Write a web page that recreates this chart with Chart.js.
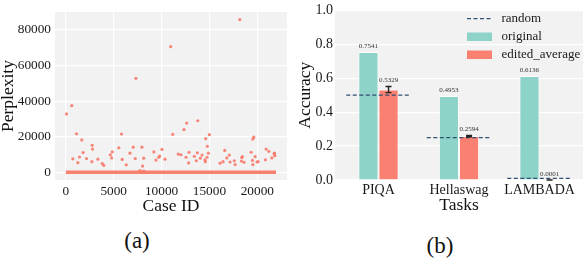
<!DOCTYPE html>
<html>
<head>
<meta charset="utf-8">
<script src="https://cdn.jsdelivr.net/npm/chart.js@4.4.1/dist/chart.umd.min.js"></script>
<style>
  html, body { margin: 0; padding: 0; background: #fff; }
  body { width: 584px; height: 258px; position: relative; overflow: hidden; font-family: "Liberation Serif", serif; }
  .box { position: absolute; top: 0; height: 220px; }
  #boxA { left: 0; width: 292px; }
  #boxB { left: 290px; width: 294px; }
  .cap { position: absolute; font-size: 23px; line-height: 1; color: #111; transform: translate(-50%, -50%); }
</style>
</head>
<body>
<div class="box" id="boxA"><canvas id="chartA"></canvas></div>
<div class="box" id="boxB"><canvas id="chartB"></canvas></div>
<div class="cap" style="left:137px; top:240px">(a)</div>
<div class="cap" style="left:440px; top:245px">(b)</div>
<script>
// (a) cases with a high perplexity (case id / perplexity)
var caseIds = [70, 628, 1120, 1670, 732, 1255, 1430, 1810, 2160, 2750, 2790, 2720, 3350, 3800, 3970,
  4640, 4850, 4780, 5820, 5540, 5890, 6310, 6700, 7040, 7250, 7320, 7950, 8020, 7740, 8130, 8130,
  9200, 9410, 9700, 9800, 10040, 10360, 10950, 11160, 12620, 12340, 13780, 11750, 12030, 12870,
  12550, 12830, 13420, 13740, 13630, 14050, 14230, 14540, 14570, 14610, 14990, 14780, 14890, 14750,
  16110, 16420, 16600, 16810, 17080, 17150, 17600, 17680, 18170, 18380, 18440, 18340, 18620, 19350,
  19530, 19630, 19490, 19530, 19770, 19970, 20080, 20850, 20920, 21200, 21520, 21760, 21830, 21790];
var perplexity = [32850, 37450, 21700, 18200, 7600, 5460, 8640, 11100, 7770, 15200, 13100, 6000, 7400, 4930, 3870,
  9900, 11500, 8110, 21560, 13800, 7260, 4240, 10760, 14150, 7770, 52800, 14150, 3550, 1060, 690, 7950,
  11500, 6890, 8480, 9170, 12880, 7420, 70600, 21350, 27700, 24000, 28980, 10230, 9900, 11300,
  8480, 5300, 9000, 10960, 6520, 7950, 9700, 7050, 6000, 18900, 21190, 14670, 10760, 8480,
  5140, 6000, 12350, 8110, 9700, 5830, 6520, 4400, 85800, 8300, 8840, 6360, 5670, 11300,
  18700, 19760, 6730, 4400, 8840, 5830, 6000, 7050, 13090, 11800, 8110, 10440, 9380, 10760];
// the bulk of the cases sit at ~0 perplexity over the whole id range
var bulkIds = [0, 21950];
var bulkPpl = [0, 0];
var caseTicks = [0, 5000, 10000, 15000, 20000];
var pplTicks = [0, 20000, 40000, 60000, 80000];

// (b) accuracy per task
var tasks = ['PIQA', 'Hellaswag', 'LAMBADA'];
var originalAcc = [0.7541, 0.4953, 0.6136];
var editedAcc = [0.5329, 0.2594, 0.0001];
var editedErr = [0.018, 0.004, 0.0006];
var randomAcc = [0.5, 0.25, 0.01];
var accTicks = [0, 0.1, 0.2, 0.3, 0.4, 0.5, 0.6, 0.7, 0.8, 0.9, 1.0];

var SERIF = '"Liberation Serif", "Times New Roman", serif';
Chart.defaults.font.family = SERIF;
Chart.defaults.color = '#1a1a1a';

var SALMON = '#fa8072';
var TEAL = '#8dd3c7';
var NAVY = '#2f4f73';

// gray plot background
var plotBg = {
  id: 'plotBg',
  beforeDraw: function (chart) {
    var a = chart.chartArea, ctx = chart.ctx;
    ctx.save();
    ctx.fillStyle = '#f2f2f2';
    ctx.fillRect(a.left, a.top, a.right - a.left, a.bottom - a.top);
    ctx.restore();
  }
};

//(a) 散點圖
var ctxA = document.getElementById('chartA');
var chartA = new Chart(ctxA, {
  type: 'scatter',
  data: {
    datasets: [{
      label: 'cases',
      data: caseIds.map(function (x, i) { return {x: x, y: perplexity[i]}; }),
      backgroundColor: 'rgba(247,122,108,0.9)',
      borderWidth: 0,
      pointRadius: 1.6
    }, {
      type: 'line',
      label: 'bulk',
      data: bulkIds.map(function (x, i) { return {x: x, y: bulkPpl[i]}; }),
      borderColor: '#f7806f',
      borderWidth: 3.5,
      pointRadius: 0
    }]
  },
  options: {
    responsive: true,
    maintainAspectRatio: false,
    animation: false,
    layout: {padding: {top: 0, right: 5, left: 0, bottom: 0}},
    plugins: {legend: {display: false}, tooltip: {enabled: false}},
    scales: {
      x: {
        type: 'linear', min: -1130, max: 23100,
        afterBuildTicks: function (s) { s.ticks = caseTicks.map(function (v) { return {value: v}; }); },
        afterFit: function (s) { s.height = 40; },
        grid: {color: '#ffffff', lineWidth: 1.2, drawTicks: false},
        border: {display: false},
        ticks: {padding: 4, maxRotation: 0, font: {family: SERIF, size: 13.3}, callback: function (v) { return String(v); }},
        title: {display: true, text: 'Case ID', color: '#111', font: {family: SERIF, size: 17.5, lineHeight: 1}, padding: {top: 0, bottom: 4.5}}
      },
      y: {
        min: -4290, max: 90090,
        afterBuildTicks: function (s) { s.ticks = pplTicks.map(function (v) { return {value: v}; }); },
        afterFit: function (s) { s.width = 55; },
        grid: {color: '#ffffff', lineWidth: 1.2, drawTicks: false},
        border: {display: false},
        ticks: {padding: 4, font: {family: SERIF, size: 13.3}, callback: function (v) { return String(v); }},
        title: {display: true, text: 'Perplexity', color: '#111', font: {family: SERIF, size: 17.5, lineHeight: 1}, padding: {top: 0, bottom: 0}}
      }
    }
  },
  plugins: [plotBg]
});

// random baseline: a short dashed segment around every task
var halfSpan = 0.4;
var randomPts = [];
randomAcc.forEach(function (v, i) {
  randomPts.push({x: i - halfSpan, y: v}, {x: i + halfSpan, y: v}, {x: i + 0.5, y: null});
});

// error bars and value labels
var barNotes = {
  id: 'barNotes',
  afterDatasetsDraw: function (chart) {
    var ctx = chart.ctx, ys = chart.scales.y;
    ctx.save();
    chart.getDatasetMeta(2).data.forEach(function (bar, i) {
      var top = ys.getPixelForValue(editedAcc[i] + editedErr[i]);
      var bot = ys.getPixelForValue(Math.max(0, editedAcc[i] - editedErr[i]));
      ctx.strokeStyle = '#222';
      ctx.lineWidth = 1.4;
      ctx.beginPath();
      ctx.moveTo(bar.x, top); ctx.lineTo(bar.x, bot);
      ctx.moveTo(bar.x - 3, top); ctx.lineTo(bar.x + 3, top);
      ctx.moveTo(bar.x - 3, bot); ctx.lineTo(bar.x + 3, bot);
      ctx.stroke();
    });
    ctx.font = '7px ' + SERIF;
    ctx.fillStyle = '#333';
    ctx.textAlign = 'center';
    ctx.textBaseline = 'bottom';
    chart.getDatasetMeta(1).data.forEach(function (bar, i) {
      ctx.fillText(originalAcc[i].toFixed(4), bar.x, ys.getPixelForValue(originalAcc[i]) - 2.5);
    });
    chart.getDatasetMeta(2).data.forEach(function (bar, i) {
      ctx.fillText(editedAcc[i].toFixed(4), bar.x, ys.getPixelForValue(editedAcc[i] + editedErr[i]) - 2.5);
    });
    ctx.restore();
  }
};

// legend in the upper right of the plot
var legendBox = {
  id: 'legendBox',
  afterDraw: function (chart) {
    var a = chart.chartArea, ctx = chart.ctx;
    var hx = a.right - 116, tx = a.right - 81.5;
    ctx.save();
    ctx.font = '13px ' + SERIF;
    ctx.textAlign = 'left';
    ctx.textBaseline = 'middle';
    chart.data.datasets.forEach(function (ds, k) {
      var yy = a.top + 8.3 + 18 * k;
      if (ds.type === 'line') {
        ctx.strokeStyle = NAVY;
        ctx.lineWidth = 1.3;
        ctx.setLineDash([4, 2.5]);
        ctx.beginPath(); ctx.moveTo(hx, yy); ctx.lineTo(hx + 25, yy); ctx.stroke();
        ctx.setLineDash([]);
      } else {
        ctx.fillStyle = ds.backgroundColor;
        ctx.fillRect(hx, yy - 4.2, 25, 8.5);
      }
      ctx.fillStyle = '#1a1a1a';
      ctx.fillText(ds.label, tx, yy);
    });
    ctx.restore();
  }
};

//(b) 長條圖
var ctxB = document.getElementById('chartB');
var chartB = new Chart(ctxB, {
  type: 'bar',
  data: {
    datasets: [{
      type: 'line',
      label: 'random',
      data: randomPts,
      borderColor: NAVY,
      borderWidth: 1.3,
      borderDash: [4, 2.5],
      pointRadius: 0,
      spanGaps: false
    }, {
      label: 'original',
      data: originalAcc.map(function (v, i) { return {x: i, y: v}; }),
      backgroundColor: TEAL,
      borderColor: 'rgba(255,255,255,0.7)',
      borderWidth: 1,
      categoryPercentage: 0.5,
      barPercentage: 1
    }, {
      label: 'edited_average',
      data: editedAcc.map(function (v, i) { return {x: i, y: v}; }),
      backgroundColor: SALMON,
      borderColor: 'rgba(255,255,255,0.7)',
      borderWidth: 1,
      categoryPercentage: 0.5,
      barPercentage: 1
    }]
  },
  options: {
    responsive: true,
    maintainAspectRatio: false,
    animation: false,
    layout: {padding: {top: 6, right: 1, left: 0, bottom: 0}},
    plugins: {legend: {display: false}, tooltip: {enabled: false}},
    scales: {
      x: {
        type: 'linear', min: -0.54, max: 2.54, offset: false,
        afterBuildTicks: function (s) { s.ticks = tasks.map(function (t, i) { return {value: i}; }); },
        afterFit: function (s) { s.height = 40; },
        grid: {display: false, drawTicks: false, offset: false},
        border: {display: false},
        ticks: {padding: 2, maxRotation: 0, font: {family: SERIF, size: 14}, callback: function (v) { return tasks[v]; }},
        title: {display: true, text: 'Tasks', color: '#111', font: {family: SERIF, size: 17.5, lineHeight: 1}, padding: {top: 0, bottom: 6.25}}
      },
      y: {
        min: 0, max: 1,
        afterBuildTicks: function (s) { s.ticks = accTicks.map(function (v) { return {value: v}; }); },
        afterFit: function (s) { s.width = 45; },
        grid: {color: '#ffffff', lineWidth: 1.2, drawTicks: false},
        border: {display: false},
        ticks: {padding: 2, font: {family: SERIF, size: 14}, callback: function (v, idx) { return idx % 2 === 0 ? v.toFixed(1) : ''; }},
        title: {display: true, text: 'Accuracy', color: '#111', font: {family: SERIF, size: 17.5, lineHeight: 1}, padding: {top: 6.75, bottom: 0}}
      }
    }
  },
  plugins: [plotBg, barNotes, legendBox]
});
</script>
</body>
</html>
